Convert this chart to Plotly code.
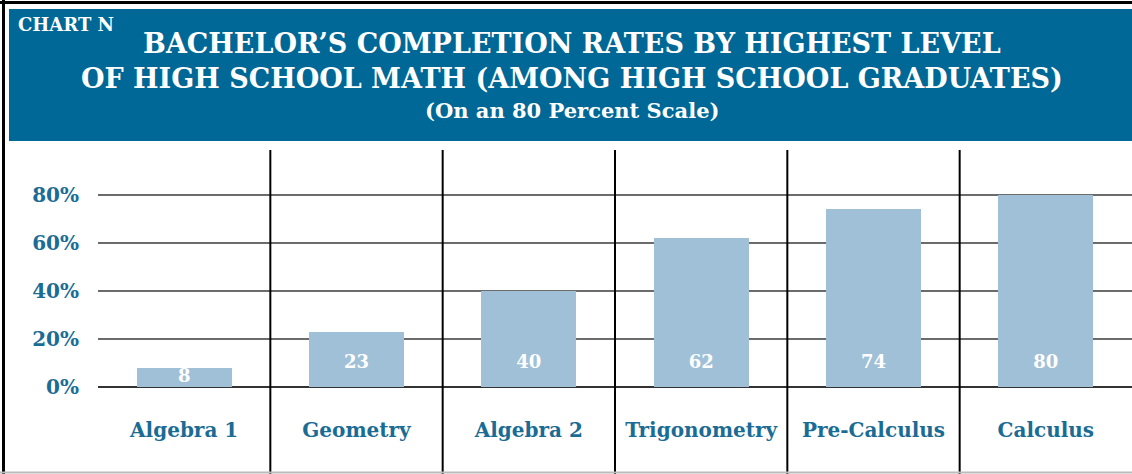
import numpy as np
import plotly.graph_objects as go

categories = ["Algebra 1", "Geometry", "Algebra 2", "Trigonometry", "Pre-Calculus", "Calculus"]
completion_rates = [8, 23, 40, 62, 74, 80]
y_ticks = [0, 20, 40, 60, 80]
y_tick_labels = ["0%", "20%", "40%", "60%", "80%"]

c_header = "#006896"
c_bar = "#9fc0d7"
c_text = "#1a6c95"
c_grid = "#6b6b6b"
font_family = "DejaVu Serif"

W, H = 1132, 474
L, T = 98, 150
plot_w, plot_h = W - L, H - T


def px_x(px):
    return (px - L) / plot_w


def px_y(py):
    return (H - py) / plot_h


values = np.array(completion_rates, dtype=float)
x_pos = list(range(len(categories)))

fig = go.Figure()
fig.add_trace(
    go.Bar(
        x=x_pos,
        y=values,
        width=0.55,
        marker=dict(color=c_bar, line=dict(width=0)),
        hoverinfo="skip",
        showlegend=False,
    )
)
# value labels near the base of each bar
fig.add_trace(
    go.Scatter(
        x=x_pos,
        y=np.minimum(values / 2, 10),
        mode="text",
        text=[f"{v:.0f}" for v in values],
        textfont=dict(family=font_family, size=18, color="white", weight="bold"),
        hoverinfo="skip",
        showlegend=False,
        cliponaxis=False,
    )
)
# category labels under the axis
fig.add_trace(
    go.Scatter(
        x=x_pos,
        y=[-18.75] * len(categories),
        mode="text",
        text=categories,
        textfont=dict(family=font_family, size=20, color=c_text, weight="bold"),
        hoverinfo="skip",
        showlegend=False,
        cliponaxis=False,
    )
)

# column separators
for i in range(len(categories) - 1):
    fig.add_shape(
        type="line", xref="x", yref="paper", x0=i + 0.5, x1=i + 0.5, y0=0, y1=1,
        line=dict(color="black", width=2), layer="above",
    )

# header band and frame
fig.add_shape(
    type="rect", xref="paper", yref="paper",
    x0=px_x(9), x1=px_x(W + 2), y0=px_y(141), y1=px_y(9),
    fillcolor=c_header, line=dict(width=0), layer="below",
)
fig.add_shape(
    type="line", xref="paper", yref="paper",
    x0=px_x(0), x1=px_x(W), y0=px_y(2.5), y1=px_y(2.5),
    line=dict(color="black", width=3),
)
fig.add_shape(
    type="line", xref="paper", yref="paper",
    x0=px_x(3.5), x1=px_x(3.5), y0=px_y(0), y1=px_y(H),
    line=dict(color="black", width=3),
)
fig.add_shape(
    type="line", xref="paper", yref="paper",
    x0=px_x(0), x1=px_x(W), y0=px_y(472.5), y1=px_y(472.5),
    line=dict(color="#bbbbbb", width=2),
)

fig.add_annotation(
    xref="paper", yref="paper", x=px_x(16), y=px_y(24),
    xanchor="left", yanchor="middle", showarrow=False,
    text="CHART N",
    font=dict(family=font_family, size=18, color="white", weight="bold"),
)
fig.add_annotation(
    xref="paper", yref="paper", x=px_x(572), y=px_y(61),
    xanchor="center", yanchor="middle", showarrow=False,
    text="BACHELOR’S COMPLETION RATES BY HIGHEST LEVEL<br>OF HIGH SCHOOL MATH (AMONG HIGH SCHOOL GRADUATES)",
    font=dict(family=font_family, size=27, color="white", weight="bold"),
)
fig.add_annotation(
    xref="paper", yref="paper", x=px_x(572), y=px_y(111),
    xanchor="center", yanchor="middle", showarrow=False,
    text="(On an 80 Percent Scale)",
    font=dict(family=font_family, size=21, color="white", weight="bold"),
)

fig.update_layout(
    width=W,
    height=H,
    margin=dict(l=L, r=0, t=T, b=0, autoexpand=False),
    paper_bgcolor="white",
    plot_bgcolor="white",
    bargap=0,
)
fig.update_xaxes(
    range=[-0.5, len(categories) - 0.5],
    showgrid=False, zeroline=False, showticklabels=False, fixedrange=True,
    automargin=False,
)
fig.update_yaxes(
    range=[(387 - H) / 2.4, (387 - T) / 2.4],
    tickvals=y_ticks,
    ticktext=y_tick_labels,
    tickfont=dict(family=font_family, size=20, color=c_text, weight="bold"),
    ticklabelstandoff=18,
    showgrid=True, gridcolor=c_grid, gridwidth=2,
    zeroline=True, zerolinecolor="#333333", zerolinewidth=2,
    showline=False, ticks="", fixedrange=True,
    automargin=False,
)

# drop the default page margin and scrollbars so the figure fills the window exactly
fig.write_html(
    "out.html",
    config={"displayModeBar": False},
    post_script=(
        "document.body.style.margin = '0';"
        "document.body.style.overflow = 'hidden';"
        "document.documentElement.style.overflow = 'hidden';"
    ),
)
